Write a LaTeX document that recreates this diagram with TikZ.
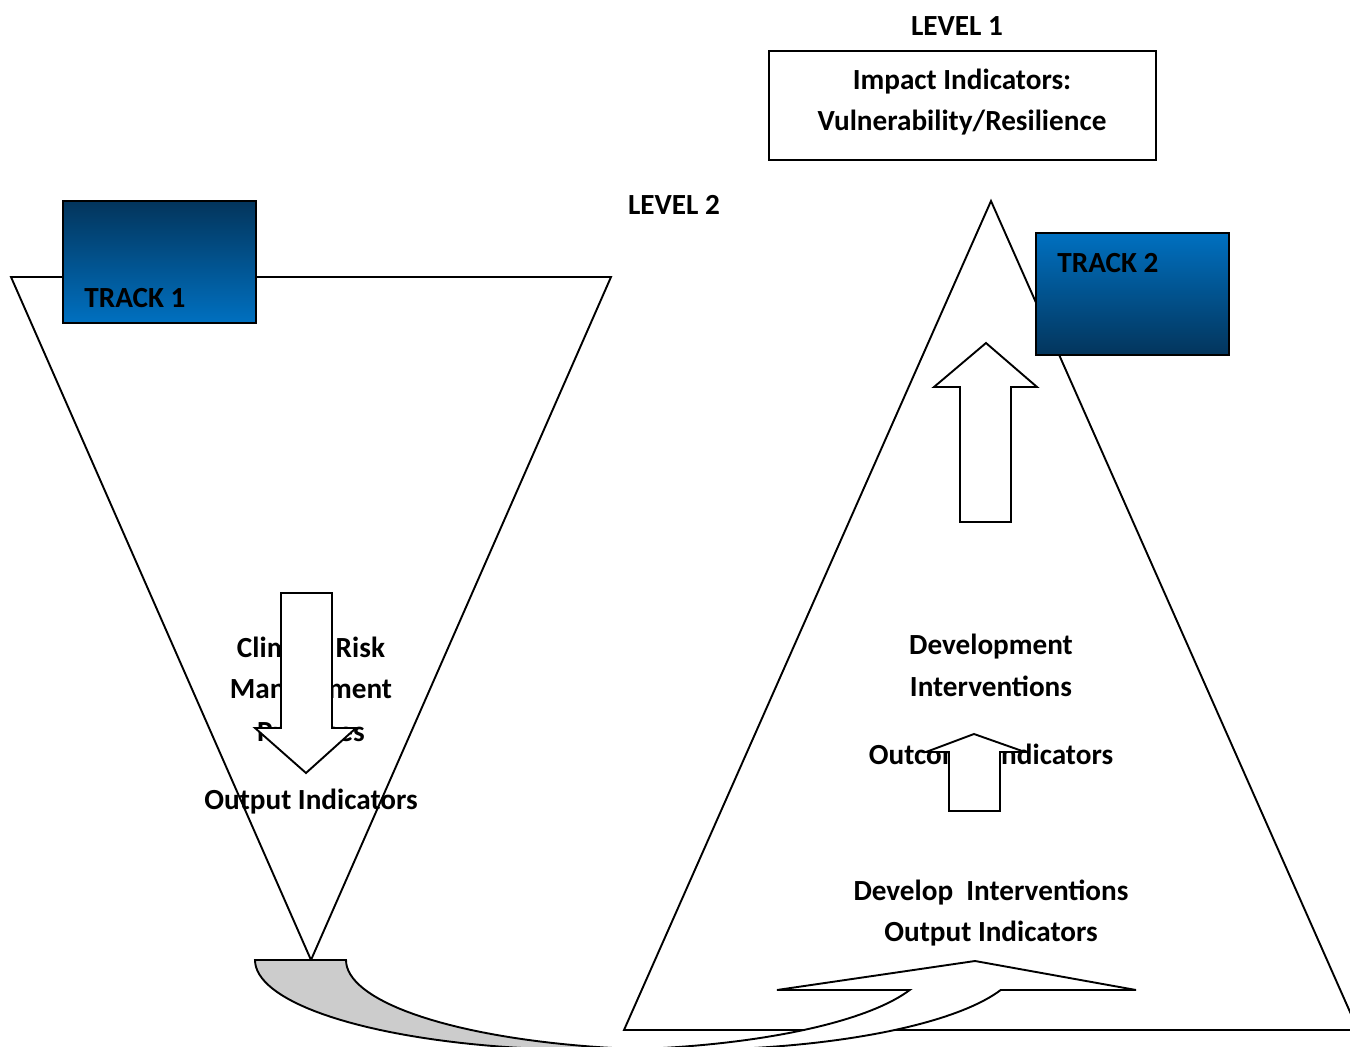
\documentclass[tikz,border=0pt]{standalone}
\usepackage{fontspec}
\setmainfont{Carlito}
\begin{document}
\begin{tikzpicture}[x=0.5pt,y=-0.5pt,
  lbl/.style={font=\bfseries\fontsize{14.6pt}{17pt}\selectfont, inner sep=0pt, anchor=base},
  lblL/.style={lbl, anchor=base west},
  shp/.style={draw=black, line width=0.95pt, line join=miter},
  trackA/.style={shp, top color=trkdark, bottom color=trkblue},
  trackB/.style={shp, top color=trkblue, bottom color=trkdark},
  white arrow/.style={shp, fill=white},
]
\definecolor{trkdark}{HTML}{03355C}
\definecolor{trkblue}{HTML}{0070C0}
\definecolor{backgray}{HTML}{CCCCCC}
\useasboundingbox (0,0) rectangle (1350,1047);
\clip (0,0) rectangle (1350,1047);

% left inverted triangle
\draw[shp, fill=white] (11,277) -- (611,277) -- (311,960) -- cycle;
% right triangle
\draw[shp, fill=white] (991,201) -- (1358,1030) -- (624,1030) -- cycle;

% titles
\node[lbl] (lev1) at (957,36) {LEVEL 1};
\node[lbl] (lev2) at (674,215) {LEVEL 2};
\node[shp, minimum width=193.5pt, minimum height=54.5pt, inner sep=0pt] (impact) at (962.5,105.5) {};
\node[lbl] (imp1) at (962,90) {Impact Indicators:};
\node[lbl] (imp2) at (962,131) {Vulnerability/Resilience};

% track boxes
\path[trackA] (63,201) rectangle (256,323);
\node[lblL] (t1) at (84,308) {TRACK 1};
\path[trackB] (1036,233) rectangle (1229,355);
\node[lblL] (t2) at (1057,273) {TRACK 2};

% left texts
\node[lbl] (crm1) at (311,658) {Climate Risk};
\node[lbl] (crm2) at (311,699) {Management};
\node[lbl] (crm3) at (311,741) {Practices};
\node[lbl] (oi1) at (311,809) {Output Indicators};

% right texts
\node[lbl] (dev1) at (991,655) {Development};
\node[lbl] (dev2) at (991,697) {Interventions};
\node[lbl] (outc) at (991,765) {Outcome\ \ Indicators};
\node[lbl] (di1) at (991,900) {Develop\ \ Interventions};
\node[lbl] (di2) at (991,941) {Output Indicators};

% block arrows
\draw[white arrow] (281,593) -- (332,593) -- (332,728) -- (356,728) -- (306,773) -- (255,728) -- (281,728) -- cycle;
\draw[white arrow] (960,522) -- (960,387) -- (934,387) -- (986,343) -- (1037,387) -- (1011,387) -- (1011,522) -- cycle;
\draw[white arrow] (949,811) -- (949,752) -- (926,752) -- (974,734) -- (1025,752) -- (1000,752) -- (1000,811) -- cycle;

% curved up arrow: back (gray) part
\draw[shp, fill=backgray] (255,960)
  -- plot[domain=180:90, samples=40] ({592+337*cos(\x)},{960+90*sin(\x)})
  -- (683,1050)
  -- plot[domain=90:180, samples=40] ({683+337*cos(\x)},{960+90*sin(\x)})
  -- cycle;
% curved up arrow: front (white) part with head
\draw[shp, fill=white] (592,1050)
  -- plot[domain=90:19.47, samples=40] ({592+337*cos(\x)},{960+90*sin(\x)})
  -- (777,990) -- (975,961) -- (1136,990)
  -- plot[domain=19.47:90, samples=40] ({683+337*cos(\x)},{960+90*sin(\x)})
  -- cycle;
\end{tikzpicture}
\end{document}
